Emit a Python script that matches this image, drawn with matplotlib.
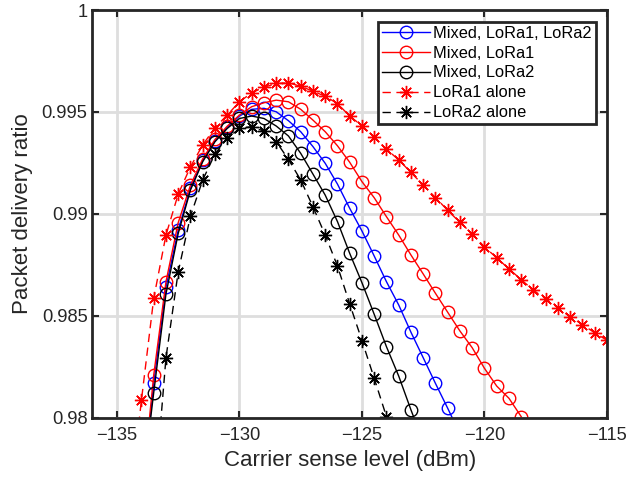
import matplotlib
matplotlib.use('Agg')
import matplotlib.pyplot as plt
import numpy as np

plt.rcParams['font.family'] = ['Liberation Sans', 'DejaVu Sans']

# Carrier sense levels (dBm), 0.5 dB steps
x_mixed = np.arange(-134.0, -118.49, 0.5)
x_l1 = np.arange(-134.5, -114.99, 0.5)
x_l2 = np.arange(-133.5, -123.99, 0.5)

# Mixed, LoRa1 (red circles) -134 .. -118.5
mixed_l1 = [0.9760, 0.98209, 0.98667, 0.98957, 0.99141, 0.99270, 0.99365, 0.99430,
            0.99485, 0.99526, 0.99545, 0.99558, 0.99550, 0.99513, 0.99460, 0.99403,
            0.99334, 0.99253, 0.99158, 0.99079, 0.98986, 0.98896, 0.98798, 0.98705,
            0.98610, 0.98517, 0.98425, 0.98343, 0.98242, 0.98155, 0.98095, 0.98005]

# Mixed, LoRa1, LoRa2 (blue circles) -134 .. -121.5 (rest below axis)
mixed_all = [0.9758, 0.98168, 0.98640, 0.98921, 0.99125, 0.99262, 0.99358, 0.99425,
             0.99480, 0.99513, 0.99518, 0.99501, 0.99457, 0.99403, 0.99330, 0.99248,
             0.99146, 0.99027, 0.98916, 0.98793, 0.98667, 0.98553, 0.98419, 0.98294,
             0.98168, 0.98046, 0.9792, 0.9780, 0.9768, 0.9756, 0.9744, 0.9732]

# Mixed, LoRa2 (black circles) -134 .. -123
mixed_l2 = [0.9762, 0.98123, 0.98607, 0.98904, 0.99117, 0.99256, 0.99354, 0.99419,
            0.99468, 0.99480, 0.99468, 0.99431, 0.99382, 0.99297, 0.99195, 0.99092,
            0.98962, 0.98806, 0.98662, 0.98507, 0.98348, 0.98204, 0.98038, 0.9788,
            0.9772, 0.9756, 0.9740, 0.9724, 0.9708, 0.9692, 0.9676, 0.9660]

# LoRa1 alone (red stars, dashed) -134.5 .. -115
alone_l1 = [0.9755, 0.98087, 0.98585, 0.98896, 0.99097, 0.99231, 0.99338, 0.99423,
            0.99485, 0.99550, 0.99594, 0.99621, 0.99640, 0.99643, 0.99626, 0.99602,
            0.99577, 0.99541, 0.99480, 0.99432, 0.99378, 0.99317, 0.99265, 0.99203,
            0.99141, 0.99080, 0.99017, 0.98958, 0.98902, 0.98838, 0.98784, 0.98730,
            0.98677, 0.98625, 0.98583, 0.98539, 0.98494, 0.98457, 0.98416, 0.98380]

# LoRa2 alone (black stars, dashed) -133.5 .. -124
alone_l2 = [0.9756, 0.98294, 0.98716, 0.98989, 0.99166, 0.99294, 0.99370, 0.99419,
            0.99428, 0.99406, 0.99354, 0.99267, 0.99166, 0.99035, 0.98896, 0.98744,
            0.98558, 0.98378, 0.98193, 0.98005]

fig = plt.figure(figsize=(6.29, 4.79), dpi=100)
ax = fig.add_axes([0.147, 0.128, 0.818, 0.851])

circ = dict(marker='o', markersize=9, markerfacecolor='none', linewidth=1.0,
            markeredgewidth=1.0)
star = dict(marker=(8, 2, 0), markersize=9.5, linewidth=1.0, markeredgewidth=1.0,
            linestyle='--', dashes=(6, 4))
ax.plot(x_mixed, mixed_all, color='#0000ff', label='Mixed, LoRa1, LoRa2', **circ)
ax.plot(x_mixed, mixed_l1, color='#ff0000', label='Mixed, LoRa1', **circ)
ax.plot(x_mixed, mixed_l2, color='black', label='Mixed, LoRa2', **circ)
ax.plot(x_l1, alone_l1, color='#ff0000', label='LoRa1 alone', **star)
ax.plot(x_l2, alone_l2, color='black', label='LoRa2 alone', **star)

ax.set_xlim(-136, -115)
ax.set_ylim(0.98, 1.0)
ax.set_xticks([-135, -130, -125, -120, -115])
ax.set_yticks([0.98, 0.985, 0.99, 0.995, 1.0])
ax.set_yticklabels(['0.98', '0.985', '0.99', '0.995', '1'])
ax.grid(True, color='#dedede', linewidth=2.0)
ax.set_axisbelow(True)
ax.tick_params(direction='in', length=5, width=1.5, labelsize=13.2,
               top=True, right=True, colors='#262626', labelcolor='#262626')
ax.tick_params(axis='x', pad=7)
for s in ax.spines.values():
    s.set_linewidth(2.0)
    s.set_color('#262626')

ax.set_xlabel('Carrier sense level (dBm)', fontsize=16, color='#262626', labelpad=4)
ax.set_ylabel('Packet delivery ratio', fontsize=16, color='#262626', labelpad=6)

leg = ax.legend(loc='upper right', fontsize=11.8, fancybox=False, framealpha=1,
                edgecolor='#262626', handlelength=2.9, borderpad=0.25,
                labelspacing=0.3, handletextpad=0.2, borderaxespad=0.7)
leg.get_frame().set_linewidth(2.0)

fig.savefig('out.png', dpi=100)
plt.close(fig)
